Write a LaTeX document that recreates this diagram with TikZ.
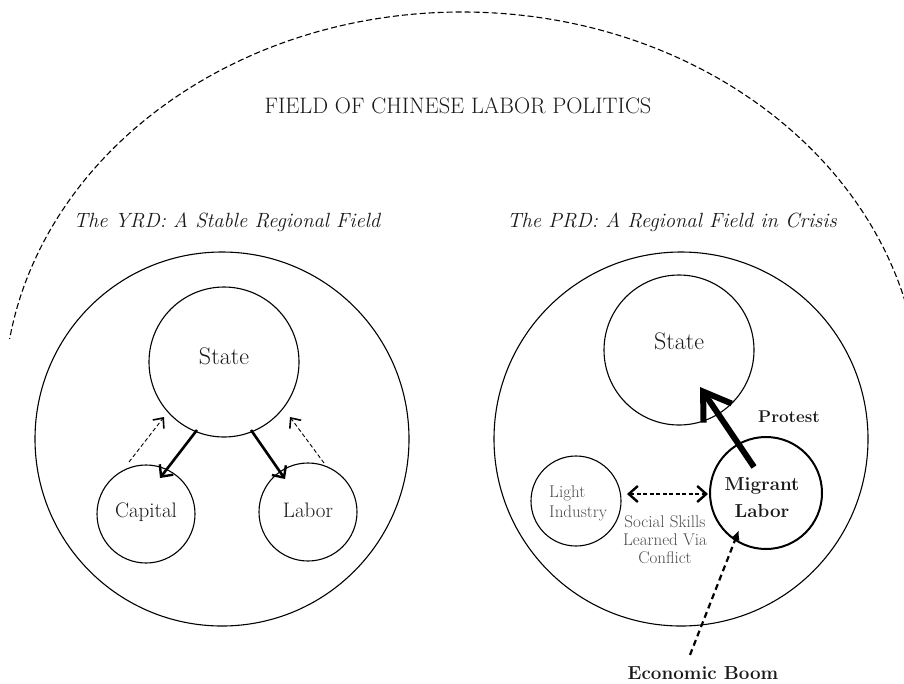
\documentclass[tikz,border=0pt]{standalone}
\usepackage{fontspec}
\usetikzlibrary{arrows.meta,calc}
\begin{document}
\begin{tikzpicture}[x=1pt,y=-1pt,
  circ/.style={draw, circle, line width=1.1pt, inner sep=0pt},
  txt/.style={inner sep=0pt, text=black!90, anchor=base},
  gtxt/.style={inner sep=0pt, text=black!70, anchor=base},
  solidarr/.style={line width=2.6pt, -{Straight Barb[length=9pt,width=17pt,line width=2.4pt]}},
  thindash/.style={line width=0.9pt, dash pattern=on 4pt off 2.5pt, -{Straight Barb[length=8pt,width=14pt,line width=1.6pt]}},
  protestarr/.style={line width=6pt, -{Straight Barb[length=26pt,width=34pt,line width=6pt]}},
  dbldash/.style={line width=1.5pt, dash pattern=on 4pt off 2.5pt, {Straight Barb[length=9pt,width=16pt,line width=2.4pt]}-{Straight Barb[length=9pt,width=16pt,line width=2.4pt]}},
  boomarr/.style={line width=2.2pt, dash pattern=on 6pt off 4pt, -{Latex[length=10pt,width=9pt]}},
  outerdash/.style={line width=1.1pt, dash pattern=on 6pt off 3pt}
]
\useasboundingbox (0,0) rectangle (904,683);

% outer dashed field
\begin{scope}
  \clip (0,0) rectangle (904,338);
  \draw[outerdash] (462,400) ellipse [x radius=458pt, y radius=388pt];
\end{scope}

% titles
\node[txt] (title) at (458,113) {\fontsize{22.4}{26}\selectfont FIELD OF CHINESE LABOR POLITICS};
\node[txt] (yrd) at (227,227) {\fontsize{20.6}{24}\selectfont\itshape The YRD: A Stable Regional Field};
\node[txt] (prd) at (672,227) {\fontsize{20.6}{24}\selectfont\itshape The PRD: A Regional Field in Crisis};

% left regional field
\node[circ, minimum size=374pt] (r1) at (222,439) {};
\node[circ, minimum size=150pt] (s1) at (224,362) {};
\node[circ, minimum size=98pt] (cap) at (146,514) {};
\node[circ, minimum size=98pt] (lab) at (308,512) {};
\node[txt] (s1t) at (224,364) {\fontsize{24}{28}\selectfont State};
\node[txt] (capt) at (146,517) {\fontsize{21}{25}\selectfont Capital};
\node[txt] (labt) at (308,517) {\fontsize{21}{25}\selectfont Labor};

\draw[solidarr] ($(s1.center)+(-27,68)$) -- ($(cap.center)+(14,-36)$);
\draw[solidarr] ($(s1.center)+(27,68)$) -- ($(lab.center)+(-23,-33)$);
\draw[thindash] ($(cap.center)+(-17,-52)$) -- ($(s1.center)+(-60,55)$);
\draw[thindash] ($(lab.center)+(16,-49)$) -- ($(s1.center)+(66,55)$);

% right regional field
\node[circ, minimum size=374pt] (r2) at (681,439) {};
\node[circ, minimum size=150pt] (s2) at (679,350) {};
\node[circ, minimum size=90pt] (li) at (576,501) {};
\node[circ, minimum size=112pt, line width=2pt] (ml) at (766,493) {};
\node[txt] (s2t) at (679,349) {\fontsize{24}{28}\selectfont State};
\node[gtxt, anchor=base west] (lit1) at (549,497) {\fontsize{17}{20}\selectfont Light};
\node[gtxt, anchor=base west] (lit2) at (549,517) {\fontsize{17}{20}\selectfont Industry};
\node[txt] (mlt1) at (762,490) {\fontsize{18.8}{22}\selectfont\bfseries Migrant};
\node[txt] (mlt2) at (762,517) {\fontsize{18.8}{22}\selectfont\bfseries Labor};
\node[gtxt] (ss1) at (665,527) {\fontsize{17}{20}\selectfont Social Skills};
\node[gtxt] (ss2) at (665,545) {\fontsize{17}{20}\selectfont Learned Via};
\node[gtxt] (ss3) at (665,563) {\fontsize{17}{20}\selectfont Conflict};
\node[txt] (prot) at (789,422) {\fontsize{17}{21}\selectfont\bfseries Protest};
\node[txt] (eb) at (703,679) {\fontsize{18.8}{22}\selectfont\bfseries Economic Boom};

\draw[protestarr] ($(ml.center)+(-12,-26)$) -- ($(s2.center)+(21,37)$);
\draw[dbldash] ($(li.center)+(51,-7)$) -- ($(ml.center)+(-58,1)$);
\draw[boomarr] ($(eb.north)+(-13,-11)$) -- ($(ml.center)+(-27,37)$);
\end{tikzpicture}
\end{document}
